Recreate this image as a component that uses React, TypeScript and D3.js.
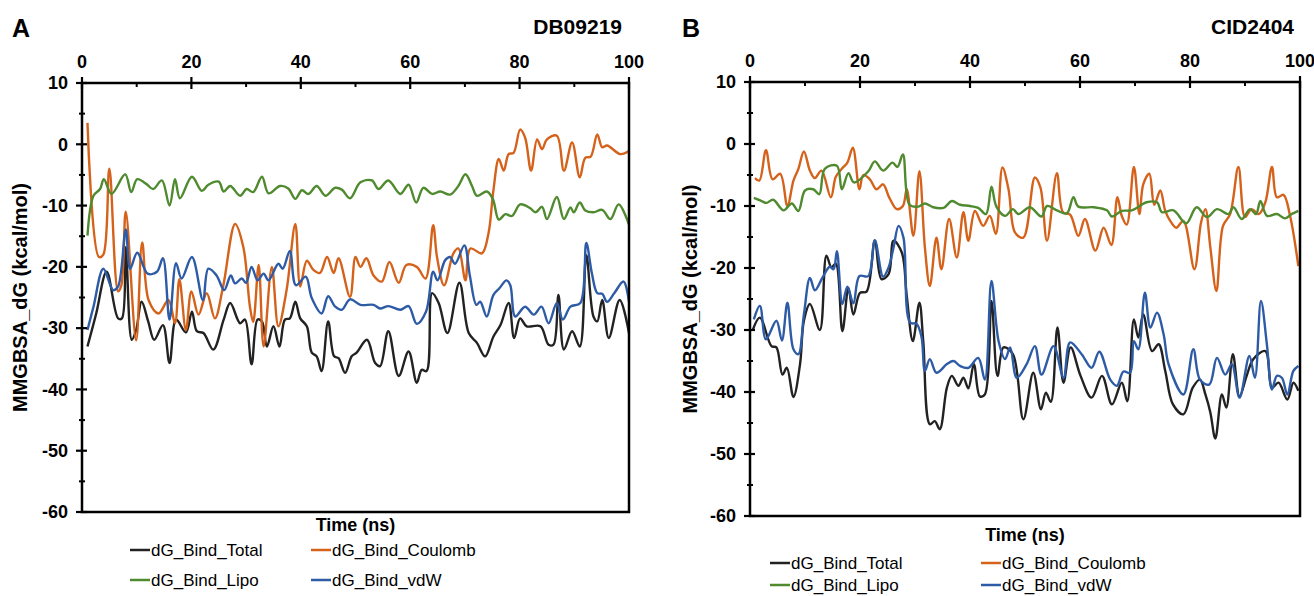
import React from 'react';
import * as d3 from 'd3';

// axis ticks
const timeTicks = [0, 20, 40, 60, 80, 100];
const timeMinor = [10, 30, 50, 70, 90];
const energyTicks = [10, 0, -10, -20, -30, -40, -50, -60];
const energyMinor = [5, -5, -15, -25, -35, -45, -55];

const seriesNames = ['dG_Bind_Total', 'dG_Bind_Coulomb', 'dG_Bind_Lipo', 'dG_Bind_vdW'];
const seriesColors = ['#222222', '#D5621B', '#4F8A2F', '#2E5BA6'];

// panel A: DB09219  [time ns, dG kcal/mol]
const dbTotal = [[1,-33],[2.6,-27.6],[4.5,-20.8],[6.6,-28.4],[7.3,-28.4],[8,-16.8],[9.1,-31.9],[9.9,-30.3],[10.9,-25.7],[12.1,-28.9],[13.2,-31.9],[14.8,-29.5],[16,-35.7],[17.2,-28.6],[19,-30.7],[20.1,-27.3],[21,-30.5],[22.2,-30.8],[24,-33.5],[25.9,-28.6],[27.1,-25.9],[28.9,-29.2],[29.8,-28.6],[31,-35.9],[32.1,-28.6],[32.9,-28.9],[33.8,-33],[35,-29.7],[36.1,-33],[37.1,-28.6],[38,-28.4],[39,-25.7],[39.9,-28.4],[41.1,-29.7],[42,-34],[42.9,-34.6],[43.8,-37],[45,-28.9],[46.1,-34.6],[46.9,-34.9],[48.1,-37.3],[49.3,-34.6],[50.2,-34],[52.1,-31.9],[53.6,-35.7],[54.5,-36.2],[56,-30.5],[57.9,-37.8],[59.7,-33.8],[61.2,-38.9],[62.1,-36.8],[63,-37],[64,-24.3],[65.2,-25.9],[66.8,-30.8],[69,-22.6],[70.7,-30.8],[72.2,-32.4],[73.7,-34.6],[75.2,-31.4],[76.5,-29.5],[78,-25.9],[79,-31.6],[80.1,-28.4],[81.3,-29.7],[83.8,-29.7],[85.3,-32.7],[86.2,-32.7],[87.1,-24.6],[88.1,-33.5],[89.6,-30.5],[91,-33],[92.2,-18.1],[93.5,-28.1],[94.2,-28.9],[95.1,-25.4],[96.3,-31.6],[98.3,-25.4],[100,-30.8]];
const dbCoulomb = [[1,3.5],[3.1,-18.4],[3.9,-18],[5,-4],[6.6,-24],[7.2,-23],[8,-11],[9.9,-32],[11,-16],[12.2,-25.5],[14,-27.6],[15.8,-25.4],[17,-29.2],[17.8,-22],[19,-30.3],[20,-24],[21.3,-27.8],[22.8,-24.3],[24.3,-28.4],[25.8,-23.2],[28,-13],[29.5,-16.8],[30.7,-26.5],[31.3,-29],[32.3,-19.7],[33.2,-33],[34.7,-20],[35.9,-29.7],[37.4,-23.8],[39,-13],[39.9,-23.2],[41.1,-19],[42.3,-20.5],[43.5,-21],[44.8,-18.4],[46,-21],[46.9,-18.6],[49,-24.9],[50,-18.4],[50.9,-20],[52,-18.6],[53.3,-21.4],[54.8,-22.4],[56.2,-19.2],[57.9,-22.6],[59.3,-19.7],[61.2,-20],[62.8,-21.9],[64.2,-13.2],[64.9,-18.4],[66.2,-23],[67.9,-17.8],[68.8,-17],[70.1,-22.2],[71,-17],[73.1,-17.8],[74.3,-14.6],[75.2,-7.6],[76.2,-2.4],[77.1,-4.3],[78,-1.6],[78.9,-1.4],[80.1,2.4],[81,1.1],[82.1,-4.3],[83.2,0.8],[84.1,-0.8],[85,0.8],[86.8,1.4],[88.1,-4.3],[89.6,0.3],[91,-5.4],[92,-2.2],[93,-2],[94.2,1.6],[95.1,-0.5],[96,-0.2],[98.4,-1.6],[100,-1.1]];
const dbLipo = [[1,-14.9],[2.1,-8.4],[3.3,-7.3],[4,-5.7],[5.4,-8.1],[7.9,-4.9],[9,-7.8],[10.1,-5.7],[11.8,-6.5],[13,-7.3],[14.6,-5.9],[16,-10],[17,-5.7],[17.9,-8.8],[20.1,-5.3],[21.9,-7.6],[23.1,-6.6],[25,-6.1],[25.9,-7.7],[27.1,-6.8],[28.9,-8.4],[30.1,-7.3],[31.3,-7.8],[32.9,-5.3],[34.1,-8],[36.2,-6.8],[37.7,-7.2],[39,-8.9],[40.2,-7.5],[41.4,-8.1],[42.9,-6.8],[44.5,-8.4],[46.3,-7.1],[47.5,-7.4],[49,-8.8],[50.9,-6.2],[53,-5.9],[54.2,-7.3],[56,-5.9],[58.2,-8.1],[59.7,-6.6],[61.1,-9.5],[62.4,-7.1],[64,-8.1],[65.5,-7.7],[67.3,-8.2],[68.8,-6.8],[70.1,-4.9],[71.3,-6.8],[72.2,-8.4],[74,-7.7],[75.1,-8.9],[76.2,-12.3],[77.4,-11.4],[78.6,-11.7],[80.1,-9.8],[81.9,-10.4],[82.9,-11.1],[84.1,-10.2],[85,-12.2],[86.8,-8.6],[88.1,-12.2],[89.3,-10.3],[89.9,-11.1],[91,-9.5],[92,-10.8],[93.5,-11.1],[95.1,-10.7],[96.6,-12.2],[98.1,-9.8],[100,-13.1]];
const dbVdw = [[1,-30.3],[2.1,-26.5],[3.9,-20.3],[5.7,-23.8],[6.6,-23.2],[8,-13.9],[8.8,-20.3],[10.1,-17.7],[12,-21.1],[13.7,-20.8],[14.8,-18.6],[16,-28.6],[17.2,-19.4],[18.2,-21.9],[20.1,-18.4],[22.1,-25.4],[23.1,-20.3],[24.6,-21.4],[26,-23.8],[27.2,-21.4],[28,-22.7],[29.2,-21.9],[30,-22.6],[31,-20],[32.1,-22.2],[33.2,-21.1],[34.1,-22.2],[35.9,-19.5],[36.7,-20.3],[38,-17.4],[39.1,-23],[40.9,-21.6],[42,-25.1],[43.8,-27.6],[45,-24.8],[46.3,-26.5],[47.5,-27],[49,-25.3],[50.9,-26.2],[53.3,-26.2],[54.5,-26.8],[56,-26.4],[58.2,-27],[59.7,-26.4],[61.2,-29.3],[62.9,-27.3],[64.2,-20.8],[65,-22.2],[66.4,-18.9],[67.3,-18.4],[68.2,-19.5],[69.9,-16.5],[70.9,-21.4],[72.1,-26.2],[72.8,-25.7],[74,-28.1],[75.2,-24.6],[76.3,-23.5],[77.6,-22.2],[78.3,-23],[79.2,-28.1],[81,-26.5],[82.6,-27.8],[84,-26.5],[85.3,-29.2],[86.8,-25.9],[87.9,-28.6],[89.3,-26.5],[91.1,-25.9],[92.2,-16.1],[93.2,-21],[94.2,-24.3],[95.1,-24.4],[96,-25.7],[97.3,-24.3],[99,-22.4],[100,-25.7]];

// panel B: CID2404
const cidTotal = [[0.5,-30],[1.8,-28],[3.9,-32.6],[4.8,-32.8],[5.9,-37.2],[6.7,-36.1],[7.9,-40.8],[9.1,-35.5],[9.8,-28.5],[10.9,-25.8],[12.7,-30],[13.9,-18],[14.8,-19.9],[15.6,-19.3],[16.8,-30.2],[17.9,-23.2],[18.8,-27.5],[20,-24],[21.2,-23.8],[22.7,-15.6],[23.9,-21.8],[25.2,-21],[26.1,-15.6],[27.6,-17.5],[28.5,-24.5],[29.6,-31.8],[30.8,-25.6],[31.5,-31.8],[32.7,-45.2],[33.6,-44.7],[34.5,-46],[35.8,-39.3],[36.7,-37.4],[37.9,-39],[38.8,-37.7],[39.7,-39.4],[40.7,-35.5],[41.8,-40.7],[42.7,-40.4],[43.9,-25.3],[45,-37.4],[46.1,-32.8],[47.8,-33.9],[49.7,-44.4],[51.5,-36.9],[52.9,-42.8],[53.8,-40.1],[54.7,-41.6],[55.9,-29.6],[57,-38.5],[58.3,-32.8],[60.1,-37.4],[62.1,-40.9],[64,-37.4],[65.8,-42],[67.6,-38.5],[68.6,-41.5],[69.8,-28.3],[70.6,-31.2],[71.5,-27.5],[73.1,-33.4],[74.3,-32.3],[75.5,-36.6],[76.9,-42],[78.8,-43.6],[80.5,-39.3],[81.8,-38],[82.8,-40.4],[83.7,-43.3],[84.6,-47.5],[85.8,-40.4],[86.6,-42.5],[87.8,-33.9],[89,-40.7],[90.3,-37.4],[91.5,-34.7],[93.7,-33.4],[94.9,-39.3],[96.1,-38.5],[97.7,-41.2],[98.8,-38.5],[99.7,-39.8]];
const cidCoulomb = [[0.9,-5.5],[1.7,-5.9],[2.9,-1],[4.1,-5.7],[5.5,-4.8],[6.8,-10],[7.9,-5.9],[8.8,-4],[9.8,-1.2],[10.9,-4.3],[11.8,-5.5],[13,-4.3],[14.7,-8.6],[15.6,-5.3],[16.7,-4],[17.7,-3],[18.7,-0.6],[19.9,-7.3],[20.6,-5],[21.8,-5.7],[23,-7.3],[24.2,-6.5],[25.3,-8.6],[26.7,-10.5],[27.8,-10],[28.5,-7.3],[29.7,-14.8],[30.8,-4.4],[31.8,-16.7],[32.7,-22.9],[33.9,-15.1],[34.8,-20.2],[36.2,-12.1],[37.6,-18.3],[38.8,-11],[39.7,-15.6],[40.9,-10.8],[42.4,-13.2],[43.6,-11.6],[44.7,-14.5],[45.9,-3.8],[47,-7.3],[48.2,-14.3],[49.7,-15.1],[51.8,-5.4],[52.8,-7],[54,-15.6],[55.8,-4.7],[56.9,-11],[58.2,-11.4],[59.7,-14.8],[60.9,-12.1],[62.8,-17.2],[64.3,-13.5],[65.7,-16.3],[66.8,-8.6],[67.6,-11.6],[68.5,-13],[69.8,-3.7],[70.8,-11.3],[71.5,-6.5],[72.6,-4.8],[73.5,-9.8],[74.6,-7.5],[75.5,-10.8],[76.4,-12.4],[77.5,-13.5],[78.8,-12.4],[80.8,-20.2],[82,-12.7],[82.8,-10.5],[83.7,-16.7],[84.8,-23.7],[86,-13.2],[87.3,-11.3],[88.8,-3.7],[90,-11.8],[91.2,-10.5],[92.5,-11.3],[93.7,-9.4],[94.9,-3.7],[95.8,-8.6],[97,-8.2],[98.2,-11.6],[99.7,-19.7]];
const cidLipo = [[0.7,-8.7],[2.1,-9.2],[3,-9.5],[4.2,-9],[6.1,-10.7],[7.6,-9.6],[8.8,-10.8],[10,-7.5],[11.5,-7.3],[12.6,-8.1],[13.6,-4],[15.8,-3.5],[16.7,-7.3],[17.9,-4.7],[18.9,-6.2],[21.5,-4.4],[22.7,-2.8],[24.2,-4.3],[25.9,-3],[26.8,-3.7],[27.8,-1.7],[29,-9.8],[30.6,-10.1],[31.8,-9.6],[33.3,-10.2],[35.2,-10.3],[36.7,-9.2],[38.2,-9.8],[40,-10],[41.5,-10.3],[42.9,-11.3],[43.9,-6.9],[44.8,-10.1],[46.4,-11.6],[47.8,-10.5],[48.8,-11.3],[50.9,-10.2],[53,-11.7],[54,-10],[55.8,-10.7],[57.6,-11.2],[58.8,-8.6],[59.7,-10.1],[62.5,-10.2],[64.9,-10.7],[65.8,-11.7],[67.6,-10.8],[69.4,-10.7],[72.1,-9.4],[74,-9.4],[74.9,-11],[77,-10.7],[79.3,-12.8],[81.2,-10.2],[83.1,-11.8],[84.9,-10.5],[87,-11.3],[87.9,-10.2],[89.4,-12.1],[90.9,-10.5],[92,-11.3],[92.8,-9.2],[94,-11.6],[95.8,-11.3],[97.3,-12],[98.5,-11.3],[99.7,-10.8]];
const cidVdw = [[0.7,-28.3],[1.8,-26.1],[2.9,-31.5],[4.8,-28.5],[5.8,-31.7],[6.8,-25.6],[7.9,-33.1],[8.8,-33.9],[9.8,-27.5],[10.9,-21.6],[11.8,-23.6],[13.2,-21.5],[14.5,-19.8],[15.2,-20.2],[15.8,-17.3],[16.8,-25.8],[17.7,-23],[18.8,-25.7],[19.9,-21.3],[21.5,-21.3],[22.7,-15.5],[24.2,-21.4],[25.2,-19.9],[26.1,-16.7],[27,-13.2],[27.9,-15.1],[29.1,-28.8],[30.3,-29],[31.2,-31.2],[31.8,-36.6],[32.7,-34.7],[33.9,-36.9],[35.8,-35.5],[37,-35],[38.2,-35.8],[39.7,-36.1],[41.5,-34.5],[42.7,-38],[43.9,-22.1],[45.2,-31.8],[46.4,-34.7],[47.3,-32.8],[48.5,-37.7],[50.3,-35.5],[51.8,-32.6],[53,-37.2],[55.2,-32.6],[57,-37.7],[58.2,-32],[60.3,-33.9],[62.1,-36.1],[63.5,-33.5],[65.5,-38],[66.7,-39],[67.9,-36.7],[69.1,-36.9],[69.8,-31.8],[70.6,-33.1],[71.8,-24],[72.8,-29.6],[74,-27.2],[75.2,-30.7],[76.1,-35.5],[78.8,-40.4],[80.6,-33.1],[81.8,-38],[83.5,-38.8],[84.9,-34.5],[86.4,-37.2],[87.6,-35.5],[89,-40.9],[90.8,-34.2],[91.8,-37.7],[92.9,-25.3],[94,-32.5],[94.9,-39.6],[95.8,-37.4],[96.7,-37.7],[97.7,-40.4],[98.8,-36.6],[99.7,-35.8]];

const font = '"Liberation Sans", Arial, sans-serif';

type Pt = [number, number];

function Panel({ layout, letter, compound, series }: any) {
  const { x0, x1, y0, y1, letterX, titleRight, yLabelX, timeY, legX, legY, legGap } = layout;
  const xScale = d3.scaleLinear().domain([0, 100]).range([x0, x1]);
  const yScale = d3.scaleLinear().domain([-60, 10]).range([y1, y0]);
  const line = d3.line<Pt>()
    .x((d) => xScale(d[0]))
    .y((d) => yScale(d[1]))
    .curve(d3.curveCatmullRom.alpha(0.5));

  return (
    <g fontFamily={font}>
      <text x={letterX} y={37} fontSize={25} fontWeight="bold">{letter}</text>
      <text x={titleRight} y={34} fontSize={21} fontWeight="bold" textAnchor="end">{compound}</text>

      {/* series */}
      {series.map((s: Pt[], i: number) => (
        <path key={i} d={line(s) || ''} fill="none" stroke={seriesColors[i]} strokeWidth={2.4} strokeLinejoin="round" />
      ))}

      {/* frame */}
      <rect x={x0} y={y0} width={x1 - x0} height={y1 - y0} fill="none" stroke="#000" strokeWidth={2.5} />

      {/* top axis */}
      {timeTicks.map((t) => (
        <g key={'t' + t}>
          <line x1={xScale(t)} x2={xScale(t)} y1={y0 - 6} y2={y0 + 6} stroke="#000" strokeWidth={2.2} />
          <text x={xScale(t)} y={y0 - 15} fontSize={18} fontWeight="bold" textAnchor="middle">{t}</text>
        </g>
      ))}
      {timeMinor.map((t) => (
        <line key={'tm' + t} x1={xScale(t)} x2={xScale(t)} y1={y0} y2={y0 + 4} stroke="#000" strokeWidth={2} />
      ))}

      {/* left axis */}
      {energyTicks.map((v) => (
        <g key={'e' + v}>
          <line x1={x0 - 6} x2={x0 + 5} y1={yScale(v)} y2={yScale(v)} stroke="#000" strokeWidth={2.2} />
          <text x={x0 - 14} y={yScale(v)} dy="0.35em" fontSize={18} fontWeight="bold" textAnchor="end">{v}</text>
        </g>
      ))}
      {energyMinor.map((v) => (
        <line key={'em' + v} x1={x0 - 3} x2={x0 + 3} y1={yScale(v)} y2={yScale(v)} stroke="#000" strokeWidth={2} />
      ))}

      <text transform={`translate(${yLabelX},${(y0 + y1) / 2}) rotate(-90)`} fontSize={20} fontWeight="bold" textAnchor="middle" dy="0.35em">MMGBSA_dG (kcal/mol)</text>
      <text x={(x0 + x1) / 2} y={timeY} fontSize={18} fontWeight="bold" textAnchor="middle" dy="0.35em">Time (ns)</text>

      {/* legend */}
      {seriesNames.map((name, i) => {
        const lx = legX[i % 2];
        const ly = legY + Math.floor(i / 2) * legGap;
        return (
          <g key={name}>
            <line x1={lx} x2={lx + 20} y1={ly} y2={ly} stroke={seriesColors[i]} strokeWidth={2.5} />
            <text x={lx + 21} y={ly} dy="0.35em" fontSize={17}>{name}</text>
          </g>
        );
      })}
    </g>
  );
}

export default function App() {
  const layoutA = { x0: 82, x1: 629, y0: 83, y1: 512, letterX: 12, titleRight: 622, yLabelX: 20, timeY: 525, legX: [130, 311], legY: 550, legGap: 30 };
  const layoutB = { x0: 750, x1: 1300, y0: 82, y1: 516, letterX: 682, titleRight: 1294, yLabelX: 690, timeY: 535, legX: [770, 981], legY: 563, legGap: 22 };
  return (
    <svg width={1314} height={596} style={{ position: 'absolute', left: 0, top: 0, background: '#fff' }}>
      <Panel layout={layoutA} letter="A" compound="DB09219" series={[dbTotal, dbCoulomb, dbLipo, dbVdw]} />
      <Panel layout={layoutB} letter="B" compound="CID2404" series={[cidTotal, cidCoulomb, cidLipo, cidVdw]} />
    </svg>
  );
}
